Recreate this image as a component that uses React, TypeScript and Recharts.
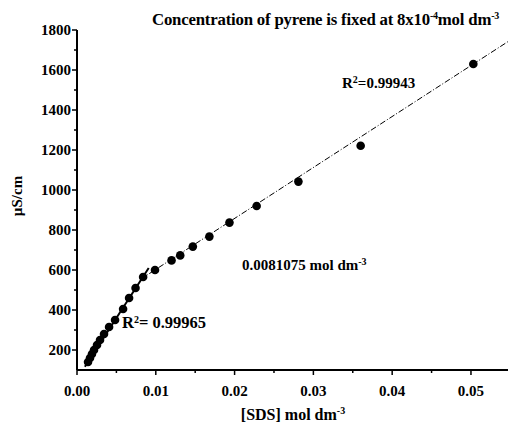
import React from "react";
import { ComposedChart, Scatter, XAxis, YAxis } from "recharts";

const sdsConc = [0.0014, 0.00165, 0.0019, 0.00216, 0.00254, 0.00292, 0.00343, 0.00407, 0.00483, 0.00585, 0.00661, 0.00743, 0.00839, 0.0099, 0.012, 0.0131, 0.0147, 0.0168, 0.01935, 0.0228, 0.0281, 0.036, 0.0503];
const conductivity = [140, 160, 180, 200, 225, 250, 280, 315, 350, 405, 460, 510, 565, 600, 648, 673, 717, 767, 837, 920, 1042, 1221, 1630];

const fitPremicellarX = [0.001, 0.0091];
const fitPremicellarY = [116, 610];
const fitPostmicellarX = [0.008, 0.0547];
const fitPostmicellarY = [552, 1742];

const xTicks = [0, 0.005, 0.01, 0.015, 0.02, 0.025, 0.03, 0.035, 0.04, 0.045, 0.05];
const xMajor = [0, 0.01, 0.02, 0.03, 0.04, 0.05];
const yTicks = [100, 200, 300, 400, 500, 600, 700, 800, 900, 1000, 1100, 1200, 1300, 1400, 1500, 1600, 1700, 1800];

const points = sdsConc.map((x, i) => ({ x, y: conductivity[i] }));
const fit1 = fitPremicellarX.map((x, i) => ({ x, y: fitPremicellarY[i] }));
const fit2 = fitPostmicellarX.map((x, i) => ({ x, y: fitPostmicellarY[i] }));

const FONT = "'Liberation Serif', 'Times New Roman', serif";

const YTick = (props: any) => {
  const { x, y, payload } = props;
  const v = payload.value as number;
  const major = v % 200 === 0;
  if (v === 100) return <g />;
  return (
    <g>
      <line x1={x - (major ? 5 : 3)} x2={x} y1={y} y2={y} stroke="#000" strokeWidth={1.5} />
      {major && (
        <text x={x - 6} y={y} dy="0.35em" textAnchor="end" fontFamily={FONT} fontWeight="bold" fontSize={15} fill="#000">
          {v}
        </text>
      )}
    </g>
  );
};

const XTick = (props: any) => {
  const { x, y, payload } = props;
  const v = payload.value as number;
  const major = xMajor.some((m) => Math.abs(m - v) < 1e-9);
  return (
    <g>
      <line x1={x} x2={x} y1={y} y2={y + (major ? 5 : 3)} stroke="#000" strokeWidth={1.5} />
      {major && (
        <text x={x} y={y + 26} textAnchor="middle" fontFamily={FONT} fontWeight="bold" fontSize={15} fill="#000">
          {v.toFixed(2)}
        </text>
      )}
    </g>
  );
};

const Dot = (props: any) => {
  const { cx, cy } = props;
  return <circle cx={cx} cy={cy} r={4.3} fill="#000" />;
};

const NoShape = () => <g />;

export default function App() {
  return (
    <div style={{ position: "fixed", left: 0, top: 0, background: "#fff", width: 508, height: 429 }}>
      <ComposedChart width={508} height={429} margin={{ top: 30, right: 0, bottom: 0, left: 0 }}>
        <XAxis
          type="number"
          dataKey="x"
          domain={[0, 0.0547]}
          ticks={xTicks}
          interval={0}
          tickSize={0}
          tickMargin={0}
          tick={<XTick />}
          height={59}
          axisLine={{ stroke: "#000", strokeWidth: 2 }}
          tickLine={false}
          allowDataOverflow
        />
        <YAxis
          type="number"
          dataKey="y"
          domain={[100, 1800]}
          ticks={yTicks}
          interval={0}
          tickSize={0}
          tickMargin={0}
          tick={<YTick />}
          width={77}
          axisLine={{ stroke: "#000", strokeWidth: 2 }}
          tickLine={false}
          allowDataOverflow
        />
        <Scatter data={fit1} line={{ stroke: "#000", strokeWidth: 2 }} shape={<NoShape />} isAnimationActive={false} />
        <Scatter data={fit2} line={{ stroke: "#000", strokeWidth: 1, strokeDasharray: "6 2 1 2" }} shape={<NoShape />} isAnimationActive={false} />
        <Scatter data={points} shape={<Dot />} isAnimationActive={false} />
        <text x={152} y={25} fontFamily={FONT} fontWeight="bold" fontSize={16.8} fill="#000" letterSpacing={-0.2}>
          Concentration of pyrene is fixed at 8x10
          <tspan dy={-6} fontSize={10}>-4</tspan>
          <tspan dy={6}>mol dm</tspan>
          <tspan dy={-6} fontSize={10}>-3</tspan>
        </text>
        <text x={342} y={88} fontFamily={FONT} fontWeight="bold" fontSize={15} fill="#000">
          R<tspan dy={-5} fontSize={10}>2</tspan>
          <tspan dy={5}>=0.99943</tspan>
        </text>
        <text x={242} y={270} fontFamily={FONT} fontWeight="bold" fontSize={15} fill="#000">
          0.0081075 mol dm<tspan dy={-5} fontSize={10}>-3</tspan>
        </text>
        <text x={122} y={328} fontFamily={FONT} fontWeight="bold" fontSize={16.5} fill="#000">
          R<tspan dy={-5} fontSize={10}>2</tspan>
          <tspan dy={5}>= 0.99965</tspan>
        </text>
        <text x={293} y={420} textAnchor="middle" fontFamily={FONT} fontWeight="bold" fontSize={16} fill="#000">
          [SDS] mol dm<tspan dy={-6} fontSize={10}>-3</tspan>
        </text>
        <text x={17} y={196} transform="rotate(-90 17 196)" textAnchor="middle" dy="0.35em" fontFamily={FONT} fontWeight="bold" fontSize={15} fill="#000">
          µS/cm
        </text>
      </ComposedChart>
    </div>
  );
}
